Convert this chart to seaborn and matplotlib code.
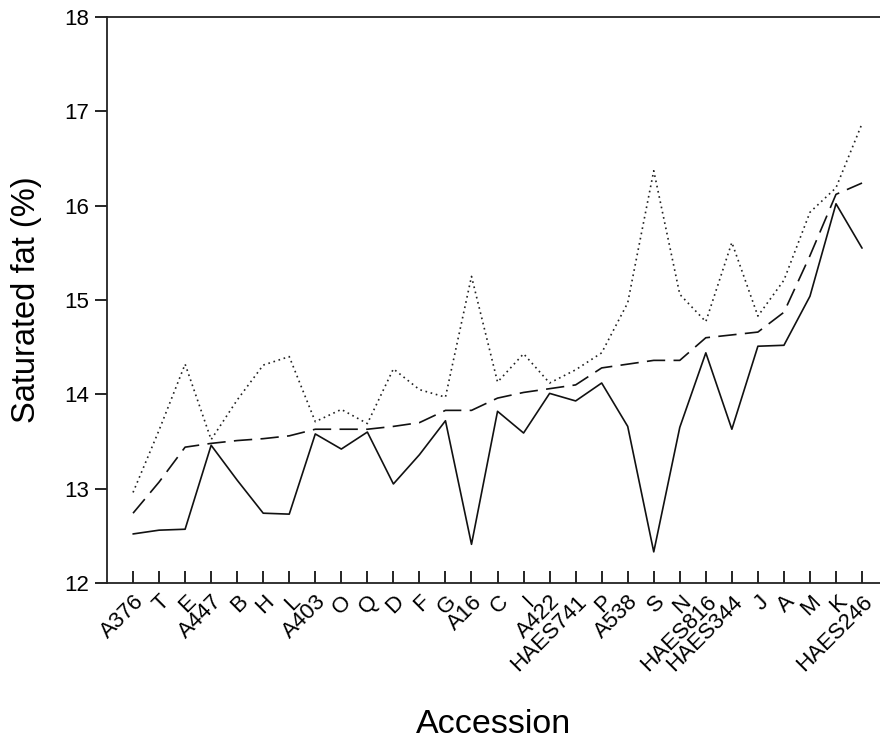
import matplotlib
matplotlib.use("Agg")
import matplotlib.pyplot as plt
import seaborn as sns
import pandas as pd

accessions = ["A376", "T", "E", "A447", "B", "H", "L", "A403", "O", "Q", "D", "F", "G",
              "A16", "C", "I", "A422", "HAES741", "P", "A538", "S", "N", "HAES816",
              "HAES344", "J", "A", "M", "K", "HAES246"]

season_1 = [12.52, 12.56, 12.57, 13.46, 13.09, 12.74, 12.73, 13.58, 13.42, 13.60, 13.05,
            13.36, 13.72, 12.41, 13.82, 13.59, 14.01, 13.93, 14.12, 13.66, 12.33, 13.65,
            14.44, 13.63, 14.51, 14.52, 15.04, 16.02, 15.55]

mean_values = [12.74, 13.07, 13.44, 13.48, 13.51, 13.53, 13.56, 13.63, 13.63, 13.63, 13.66,
               13.70, 13.83, 13.83, 13.96, 14.02, 14.06, 14.10, 14.28, 14.32, 14.36, 14.36,
               14.60, 14.63, 14.66, 14.87, 15.47, 16.12, 16.24]

season_2 = [12.96, 13.62, 14.32, 13.52, 13.94, 14.31, 14.40, 13.71, 13.84, 13.69, 14.27,
            14.05, 13.97, 15.25, 14.13, 14.43, 14.12, 14.26, 14.44, 14.97, 16.37, 15.06,
            14.77, 15.61, 14.83, 15.21, 15.93, 16.19, 16.87]

y_ticks = [12, 13, 14, 15, 16, 17, 18]

series_names = ["Season 1", "Mean", "Season 2"]
frames = []
for name, vals in zip(series_names, [season_1, mean_values, season_2]):
    frames.append(pd.DataFrame({"Accession": accessions, "value": vals, "series": name}))
df = pd.concat(frames, ignore_index=True)

sns.set_style("white")
plt.rcParams["font.family"] = ["Liberation Sans", "DejaVu Sans"]
plt.rcParams["text.color"] = "black"
plt.rcParams["axes.labelcolor"] = "black"
plt.rcParams["xtick.color"] = "black"
plt.rcParams["ytick.color"] = "black"

fig = plt.figure(figsize=(8.8, 7.41), dpi=100)
ax = fig.add_axes([107 / 880, 1 - 583 / 741, 1 - 107 / 880, (583 - 17) / 741])

sns.lineplot(data=df, x="Accession", y="value", hue="series", style="series",
             palette={"Season 1": "#111111", "Mean": "#111111", "Season 2": "#222222"},
             dashes={"Season 1": "", "Mean": (11, 5), "Season 2": (1, 2.2)},
             linewidth=1.2, sort=False, legend=False, ax=ax)

ax.set_xlim(-1, 28.69)
ax.set_ylim(12, 18)
ax.set_yticks(y_ticks)
ax.set_yticklabels([str(t) for t in y_ticks], fontsize=16)
ax.set_xticks(range(len(accessions)))
ax.set_xticklabels(accessions, rotation=45, ha="right", va="top",
                   rotation_mode="anchor", fontsize=16)

ax.tick_params(axis="x", direction="in", length=9, width=1.2, pad=6, bottom=True,
               colors="black")
ax.tick_params(axis="y", direction="out", length=9, width=1.2, pad=4, left=True,
               colors="black")

for side in ["left", "bottom", "top"]:
    ax.spines[side].set_visible(True)
    ax.spines[side].set_color("#222222")
    ax.spines[side].set_linewidth(1.3)
ax.spines["right"].set_visible(False)

ax.set_xlabel("Accession", fontsize=24.5, labelpad=24, color="black")
ax.set_ylabel("Saturated fat (%)", fontsize=23.5, labelpad=16, color="black")

fig.savefig("out.png", dpi=100)
